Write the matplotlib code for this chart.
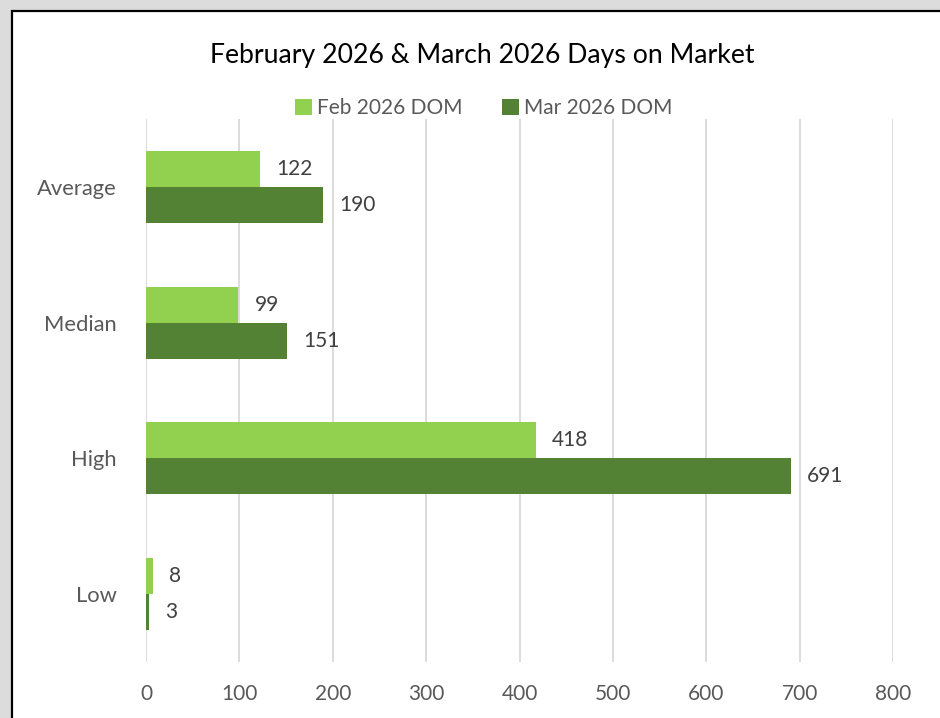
import matplotlib
matplotlib.use('Agg')

import matplotlib.pyplot as plt
import numpy as np
from matplotlib.patches import Rectangle

plt.rcParams['font.family'] = ['Lato', 'DejaVu Sans']

# --- data ---
CATEGORIES = ['Average', 'Median', 'High', 'Low']
FEB_DOM = [122, 99, 418, 8]
MAR_DOM = [190, 151, 691, 3]
SERIES_NAMES = ['Feb 2026 DOM', 'Mar 2026 DOM']
TITLE = 'February 2026 & March 2026 Days on Market'
XTICKS = [0, 100, 200, 300, 400, 500, 600, 700, 800]

FEB_COLOR = '#92d050'
MAR_COLOR = '#548235'
TEXT_COLOR = '#595959'
GRID_COLOR = '#d9d9d9'

W, H = 940, 718
fig = plt.figure(figsize=(W / 100, H / 100), dpi=100)
fig.patch.set_facecolor('#dcdcdc')

# white chart area with black frame (right/bottom edges run off the image)
fig.patches.append(Rectangle((12 / W, -0.1), 1.0, 1 - 11 / H + 0.1,
                             transform=fig.transFigure, facecolor='white',
                             edgecolor='black', linewidth=1.6, zorder=-5))

ax = fig.add_axes([146 / W, 1 - 662 / H, 747 / W, 543 / H])
ax.set_facecolor('none')

y = np.arange(len(CATEGORIES))[::-1].astype(float)
bar_h = 36 / 136
b1 = ax.barh(y + bar_h / 2, FEB_DOM, height=bar_h, color=FEB_COLOR, label=SERIES_NAMES[0], zorder=3)
b2 = ax.barh(y - bar_h / 2, MAR_DOM, height=bar_h, color=MAR_COLOR, label=SERIES_NAMES[1], zorder=3)

for bars in (b1, b2):
    ax.bar_label(bars, padding=11.5, fontsize=15, color='#404040')

ax.set_xlim(0, 800)
ax.set_ylim(-0.5, len(CATEGORIES) - 0.5)
ax.set_xticks(XTICKS)
ax.set_yticks(y)
ax.set_yticklabels(CATEGORIES)
ax.tick_params(axis='both', length=0, labelsize=15, labelcolor=TEXT_COLOR)
ax.tick_params(axis='x', pad=16)
ax.tick_params(axis='y', labelsize=15.8, pad=21)
ax.grid(axis='x', color=GRID_COLOR, linewidth=1.3, zorder=0)
for s in ax.spines.values():
    s.set_visible(False)

fig.text(482 / W, 1 - 55 / H, TITLE, ha='center', va='center', fontsize=19.2, color='black')

leg = ax.legend(loc='center', bbox_to_anchor=(484 / W, 1 - 108 / H), bbox_transform=fig.transFigure,
                ncol=2, frameon=False, fontsize=15, handlelength=0.8, handleheight=0.8,
                handletextpad=0.25, columnspacing=1.9)
for t in leg.get_texts():
    t.set_color(TEXT_COLOR)

fig.savefig('out.png', dpi=100, facecolor=fig.get_facecolor())
